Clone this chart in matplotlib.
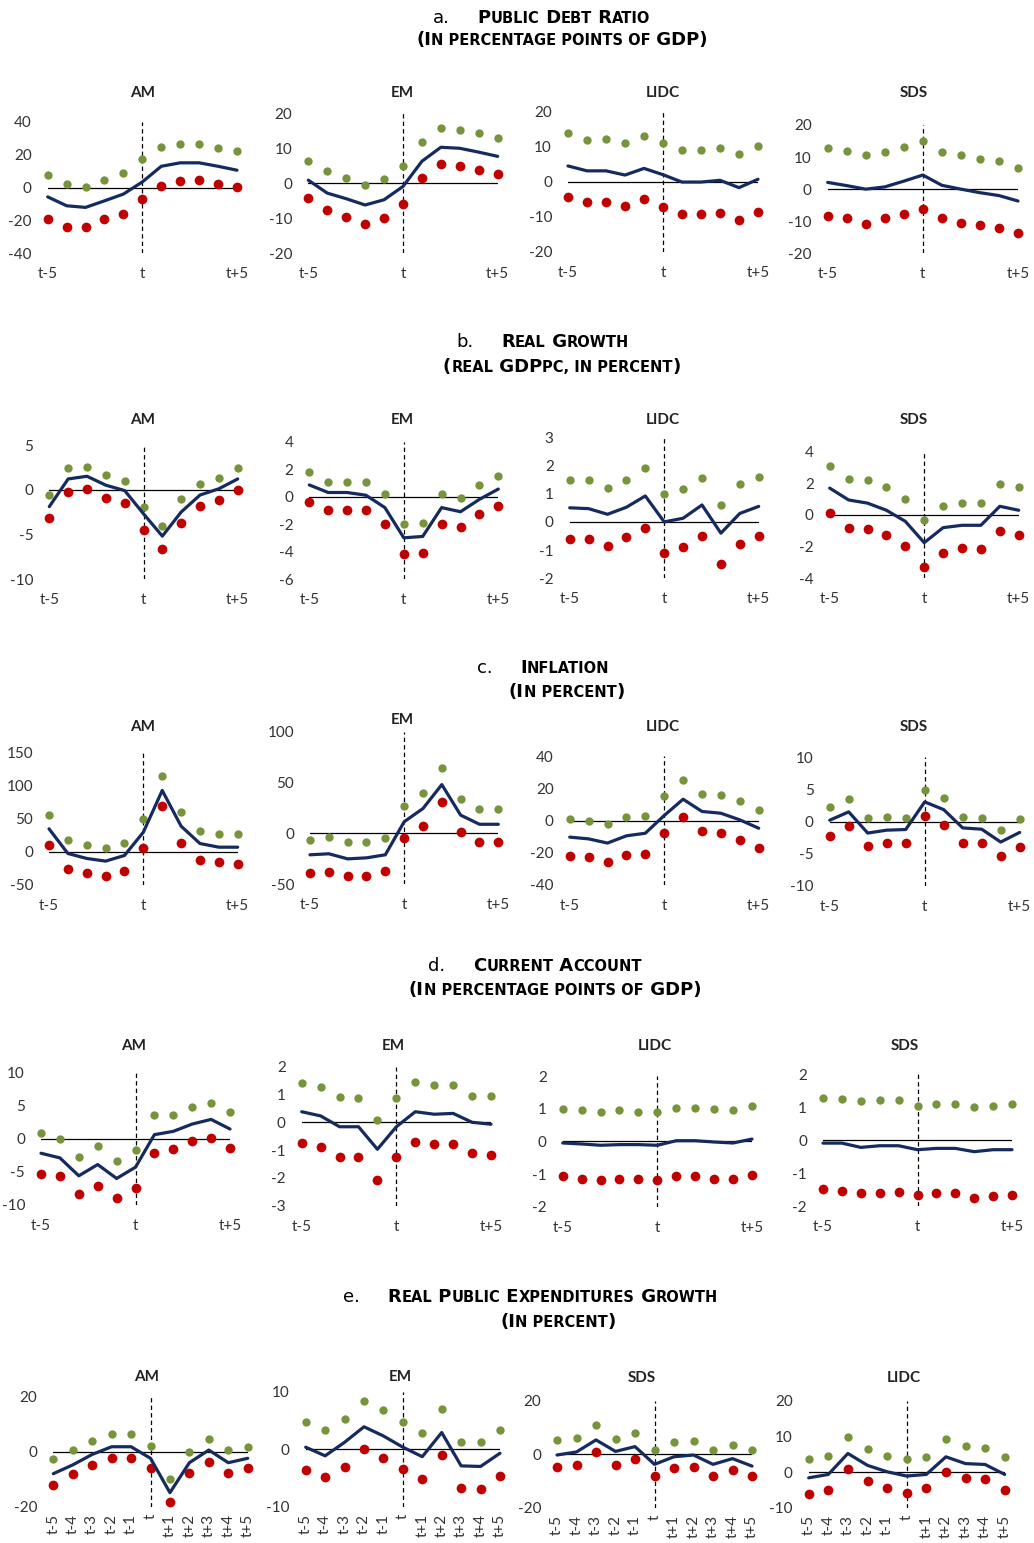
import numpy as np
import matplotlib
matplotlib.use("Agg")
import matplotlib.pyplot as plt
from matplotlib.offsetbox import TextArea, HPacker, DrawingArea, AnchoredOffsetbox

plt.rcParams['font.family'] = ['Lato', 'DejaVu Sans']
plt.rcParams['axes.unicode_minus'] = False

W, H = 1034, 1543
periods = np.arange(-5, 6)
period_labels = ['t-5', 't-4', 't-3', 't-2', 't-1', 't', 't+1', 't+2', 't+3', 't+4', 't+5']

# a. public debt ratio
debt_AM_hi = [7.9, 2.0, 0.4, 4.8, 8.9, 17.6, 24.6, 26.7, 26.7, 24.0, 22.4]
debt_AM_lo = [-19.4, -23.8, -23.8, -19.4, -16.2, -6.7, 1.2, 4.0, 4.8, 2.4, 0.4]
debt_AM_med = [-5.7, -11.1, -12.1, -8.1, -4.0, 3.4, 12.9, 15.0, 15.0, 12.9, 10.5]
debt_EM_hi = [6.5, 3.6, 1.5, -0.4, 1.1, 4.9, 11.9, 15.7, 15.3, 14.3, 13.0]
debt_EM_lo = [-4.2, -7.7, -9.6, -11.6, -10.0, -5.8, 1.5, 5.4, 4.9, 3.8, 2.7]
debt_EM_med = [0.9, -2.8, -4.4, -6.2, -4.7, -0.9, 6.3, 10.3, 10.0, 8.9, 7.7]
debt_LIDC_hi = [13.8, 11.9, 12.2, 11.0, 13.0, 11.0, 9.0, 9.0, 9.7, 7.8, 10.1]
debt_LIDC_lo = [-4.5, -5.9, -5.9, -7.0, -5.0, -7.1, -9.3, -9.3, -8.9, -10.9, -8.6]
debt_LIDC_med = [4.5, 3.1, 3.1, 1.9, 3.8, 2.0, -0.1, -0.1, 0.4, -1.7, 0.7]
debt_SDS_hi = [12.7, 12.0, 10.7, 11.6, 13.2, 14.9, 11.6, 10.7, 9.4, 8.7, 6.6]
debt_SDS_lo = [-8.4, -9.1, -10.9, -9.1, -7.9, -6.2, -9.1, -10.4, -11.3, -12.0, -13.8]
debt_SDS_med = [2.1, 1.1, 0.0, 0.7, 2.5, 4.4, 1.2, 0.0, -1.1, -2.0, -3.7]

# b. real growth
growth_AM_hi = [-0.6, 2.4, 2.5, 1.6, 1.0, -1.9, -4.1, -1.1, 0.6, 1.3, 2.4]
growth_AM_lo = [-3.2, -0.3, 0.1, -0.9, -1.5, -4.5, -6.6, -3.7, -1.8, -1.2, 0.0]
growth_AM_med = [-1.9, 1.2, 1.5, 0.5, -0.1, -2.7, -5.2, -2.5, -0.6, 0.1, 1.2]
growth_EM_hi = [1.8, 1.1, 1.1, 1.1, 0.2, -2.0, -1.9, 0.2, -0.1, 0.85, 1.5]
growth_EM_lo = [-0.4, -1.0, -1.0, -1.0, -2.0, -4.2, -4.1, -2.0, -2.2, -1.3, -0.7]
growth_EM_med = [0.85, 0.3, 0.3, 0.1, -0.8, -3.0, -2.9, -0.8, -1.1, -0.2, 0.55]
growth_LIDC_hi = [1.5, 1.5, 1.2, 1.5, 1.9, 1.0, 1.15, 1.55, 0.6, 1.35, 1.6]
growth_LIDC_lo = [-0.6, -0.6, -0.85, -0.55, -0.2, -1.1, -0.9, -0.5, -1.5, -0.8, -0.5]
growth_LIDC_med = [0.5, 0.47, 0.27, 0.52, 0.92, 0.0, 0.13, 0.6, -0.4, 0.3, 0.55]
growth_SDS_hi = [3.1, 2.3, 2.2, 1.75, 1.0, -0.3, 0.6, 0.75, 0.75, 1.95, 1.8]
growth_SDS_lo = [0.15, -0.8, -0.9, -1.25, -1.95, -3.3, -2.4, -2.1, -2.15, -1.0, -1.25]
growth_SDS_med = [1.7, 0.95, 0.75, 0.3, -0.4, -1.75, -0.8, -0.65, -0.65, 0.55, 0.3]

# c. inflation
infl_AM_hi = [56, 17.5, 10, 6, 13.5, 50, 114, 60, 32, 27.5, 27.5]
infl_AM_lo = [10, -26.5, -32.5, -36.5, -29, 6, 69, 13.5, -12.5, -15.5, -18]
infl_AM_med = [34.7, -2.5, -10, -14, -5.5, 29.6, 92.5, 38.7, 12.5, 7, 7]
infl_EM_hi = [-6, -3.3, -8.2, -8.2, -4, 27, 40, 64, 34, 24.5, 24.5]
infl_EM_lo = [-38.5, -37.5, -41.5, -41.5, -37, -4.2, 7.5, 31, 1, -8.2, -8.2]
infl_EM_med = [-21, -20, -25, -24, -21, 11.5, 24.5, 48, 18, 9, 9]
infl_LIDC_hi = [1, -0.6, -2.3, 1.9, 2.5, 14.9, 25, 16.5, 15.7, 11.8, 6.6]
infl_LIDC_lo = [-22.3, -22.9, -25.6, -21.3, -20.5, -8, 1.9, -6.6, -8, -12.4, -17.1]
infl_LIDC_med = [-10.3, -11.4, -14, -9.5, -7.9, 3.1, 13.2, 5.6, 4.5, 0.4, -4.8]
infl_SDS_hi = [2.2, 3.5, 0.5, 0.7, 0.6, 4.9, 3.7, 0.7, 0.5, -1.35, 0.4]
infl_SDS_lo = [-2.2, -0.7, -3.85, -3.4, -3.4, 0.8, -0.5, -3.4, -3.4, -5.3, -3.95]
infl_SDS_med = [0.2, 1.5, -1.8, -1.35, -1.25, 3.05, 1.85, -1.0, -1.2, -3.2, -1.7]

# d. current account
ca_AM_hi = [0.85, -0.05, -2.8, -1.15, -3.4, -1.75, 3.5, 3.5, 4.7, 5.4, 4.0]
ca_AM_lo = [-5.4, -5.7, -8.3, -7.2, -9.0, -7.4, -2.2, -1.5, -0.3, 0.1, -1.4]
ca_AM_med = [-2.2, -2.9, -5.6, -3.9, -6.0, -4.3, 0.6, 1.1, 2.2, 2.9, 1.45]
ca_EM_hi = [1.43, 1.28, 0.92, 0.86, 0.08, 0.89, 1.44, 1.34, 1.34, 0.95, 0.95]
ca_EM_lo = [-0.76, -0.88, -1.26, -1.26, -2.07, -1.26, -0.7, -0.79, -0.79, -1.12, -1.18]
ca_EM_med = [0.38, 0.23, -0.16, -0.16, -0.97, -0.16, 0.38, 0.29, 0.32, 0.0, -0.07]
ca_LIDC_hi = [0.99, 0.95, 0.91, 0.95, 0.91, 0.91, 1.02, 1.02, 0.99, 0.95, 1.08]
ca_LIDC_lo = [-1.05, -1.14, -1.19, -1.14, -1.14, -1.19, -1.05, -1.05, -1.14, -1.14, -1.02]
ca_LIDC_med = [-0.05, -0.08, -0.12, -0.1, -0.1, -0.12, 0.02, 0.02, -0.02, -0.05, 0.07]
ca_SDS_hi = [1.28, 1.25, 1.18, 1.22, 1.22, 1.05, 1.09, 1.09, 1.0, 1.05, 1.09]
ca_SDS_lo = [-1.49, -1.54, -1.59, -1.59, -1.56, -1.68, -1.62, -1.62, -1.77, -1.7, -1.66]
ca_SDS_med = [-0.09, -0.09, -0.22, -0.17, -0.17, -0.29, -0.25, -0.25, -0.35, -0.29, -0.29]

# e. real public expenditures growth
exp_AM_hi = [-2.8, 0.6, 3.9, 6.3, 6.3, 2.1, -10, -0.1, 4.7, 0.8, 1.8]
exp_AM_lo = [-12.2, -8.2, -4.8, -2.2, -2.2, -6.0, -18.2, -7.9, -3.6, -7.9, -6.0]
exp_AM_med = [-8, -4.8, -1, 1.8, 1.8, -2.4, -14.9, -4, 0.6, -4, -2.4]
exp_EM_hi = [4.8, 3.4, 5.2, 8.3, 6.8, 4.8, 2.9, 7.0, 1.3, 1.2, 3.4]
exp_EM_lo = [-3.6, -4.9, -3.1, 0.0, -1.45, -3.4, -5.2, -1.0, -6.7, -6.9, -4.6]
exp_EM_med = [0.35, -1.15, 1.2, 3.9, 2.3, 0.35, -1.3, 2.9, -2.9, -3.0, -0.7]
exp_SDS_hi = [5.4, 6.3, 11, 5.9, 8.1, 1.5, 4.6, 5.0, 1.5, 3.5, 1.5]
exp_SDS_lo = [-4.6, -4.1, 0.9, -4.1, -1.6, -8.1, -5.25, -4.75, -8.1, -6.0, -8.1]
exp_SDS_med = [-0.25, 0.9, 5.4, 1.1, 2.9, -3.75, -0.9, -0.25, -3.75, -1.6, -4.4]
exp_LIDC_hi = [3.6, 4.6, 9.9, 6.5, 4.6, 3.6, 4.3, 9.2, 7.3, 6.9, 4.3]
exp_LIDC_lo = [-6.2, -4.9, 0.75, -2.4, -4.6, -5.8, -4.6, -0.1, -1.6, -2.0, -5.1]
exp_LIDC_med = [-1.6, -0.65, 5.25, 1.9, 0.1, -1.1, -0.65, 4.3, 2.4, 2.15, -0.65]

GREEN = '#77933C'
RED = '#C00000'
NAVY = '#152A5E'
TICK = '#333333'

fig = plt.figure(figsize=(W / 100, H / 100), dpi=100)

# panel layout in pixels: name, hi, lo, med, x(t-5), x(t+5), y(top), y(bottom), yticks, title x, title y, all labels
panels = [
    ('AM', debt_AM_hi, debt_AM_lo, debt_AM_med, 47.7, 237, 121.7, 253.3, [-40, -20, 0, 20, 40], 143, 93, False),
    ('EM', debt_EM_hi, debt_EM_lo, debt_EM_med, 308.3, 497.7, 113.3, 253.3, [-20, -10, 0, 10, 20], 402, 93, False),
    ('LIDC', debt_LIDC_hi, debt_LIDC_lo, debt_LIDC_med, 568, 758, 111.7, 251.7, [-20, -10, 0, 10, 20], 663, 93, False),
    ('SDS', debt_SDS_hi, debt_SDS_lo, debt_SDS_med, 827.7, 1018, 125, 253.3, [-20, -10, 0, 10, 20], 914, 93, False),

    ('AM', growth_AM_hi, growth_AM_lo, growth_AM_med, 49.3, 237.7, 445, 579, [-10, -5, 0, 5], 143, 420, False),
    ('EM', growth_EM_hi, growth_EM_lo, growth_EM_med, 309.3, 498.3, 441.7, 579, [-6, -4, -2, 0, 2, 4], 402, 420, False),
    ('LIDC', growth_LIDC_hi, growth_LIDC_lo, growth_LIDC_med, 569.7, 758.7, 437.3, 578.3, [-2, -1, 0, 1, 2, 3], 663, 420, False),
    ('SDS', growth_SDS_hi, growth_SDS_lo, growth_SDS_med, 829.7, 1018.7, 451.7, 578.3, [-4, -2, 0, 2, 4], 914, 420, False),

    ('AM', infl_AM_hi, infl_AM_lo, infl_AM_med, 49, 237.7, 752.3, 885, [-50, 0, 50, 100, 150], 143, 727, False),
    ('EM', infl_EM_hi, infl_EM_lo, infl_EM_med, 310, 498.3, 731.7, 884.3, [-50, 0, 50, 100], 402, 720, False),
    ('LIDC', infl_LIDC_hi, infl_LIDC_lo, infl_LIDC_med, 569.7, 758.7, 756, 885, [-40, -20, 0, 20, 40], 663, 727, False),
    ('SDS', infl_SDS_hi, infl_SDS_lo, infl_SDS_med, 829.7, 1019.7, 757.3, 885.7, [-10, -5, 0, 5, 10], 914, 727, False),

    ('AM', ca_AM_hi, ca_AM_lo, ca_AM_med, 41, 230, 1072.3, 1205, [-10, -5, 0, 5, 10], 134, 1046, False),
    ('EM', ca_EM_hi, ca_EM_lo, ca_EM_med, 301.7, 491, 1066.7, 1205.7, [-3, -2, -1, 0, 1, 2], 393, 1046, False),
    ('LIDC', ca_LIDC_hi, ca_LIDC_lo, ca_LIDC_med, 562.7, 752, 1076, 1206.7, [-2, -1, 0, 1, 2], 655, 1046, False),
    ('SDS', ca_SDS_hi, ca_SDS_lo, ca_SDS_med, 823, 1012, 1074.3, 1206, [-2, -1, 0, 1, 2], 905, 1046, False),

    ('AM', exp_AM_hi, exp_AM_lo, exp_AM_med, 53.3, 247.7, 1396.7, 1506.7, [-20, 0, 20], 147, 1377, True),
    ('EM', exp_EM_hi, exp_EM_lo, exp_EM_med, 305.7, 500, 1391.7, 1506.7, [-10, 0, 10], 400, 1377, True),
    ('SDS', exp_SDS_hi, exp_SDS_lo, exp_SDS_med, 557, 752, 1401, 1507.7, [-20, 0, 20], 642, 1378, True),
    ('LIDC', exp_LIDC_hi, exp_LIDC_lo, exp_LIDC_med, 808.7, 1004.7, 1401, 1507.7, [-10, 0, 10, 20], 904, 1378, True),
]

for name, hi, lo, med, x0, x1, ytop, ybot, yticks, tx, ty, all_labels in panels:
    ax = fig.add_axes([x0 / W, 1 - ybot / H, (x1 - x0) / W, (ybot - ytop) / H])
    ax.set_xlim(-5, 5)
    ax.set_ylim(yticks[0], yticks[-1])
    ax.axvline(0, color='black', lw=0.9, ls=(0, (3.5, 2.5)), zorder=1)
    ax.plot([-5, 5], [0, 0], color='black', lw=0.9, zorder=2)
    ax.plot(periods, hi, 'o', color=GREEN, ms=6, mec='none', clip_on=False, zorder=3)
    ax.plot(periods, lo, 'o', color=RED, ms=7, mec='none', clip_on=False, zorder=3)
    ax.plot(periods, med, color=NAVY, lw=2.3, clip_on=False, zorder=4,
            solid_joinstyle='round', solid_capstyle='round')
    for s in ax.spines.values():
        s.set_visible(False)
    ax.set_yticks(yticks)
    ax.set_yticklabels([str(v) for v in yticks])
    if all_labels:
        ax.set_xticks(periods)
        ax.set_xticklabels(period_labels, rotation=90)
        ax.tick_params(axis='x', pad=5)
    else:
        ax.set_xticks([-5, 0, 5])
        ax.set_xticklabels(['t-5', 't', 't+5'])
        ax.tick_params(axis='x', pad=10)
    ax.tick_params(axis='y', pad=11.5)
    ax.tick_params(length=0, labelsize=11, labelcolor=TICK)
    fig.text(tx / W, 1 - ty / H, name, ha='center', va='center',
             fontsize=11, fontweight='bold', color='#222222')


def section_title(letter, line1, line2, x1, y1, x2, y2):
    big, small = 13, 10.5
    props = lambda s: dict(fontsize=s, fontweight='bold', family='DejaVu Sans', color='black')
    kids = [TextArea(letter, textprops=dict(fontsize=big, family='DejaVu Sans', color='black')),
            DrawingArea(20, 1)]
    kids += [TextArea(t, textprops=props(big if b else small)) for t, b in line1]
    box = HPacker(children=kids, align='baseline', pad=0, sep=0)
    fig.add_artist(AnchoredOffsetbox(loc='center left', child=box, pad=0, borderpad=0, frameon=False,
                                     bbox_to_anchor=(x1 / W, 1 - y1 / H), bbox_transform=fig.transFigure))
    kids = [TextArea(t, textprops=props(big if b else small)) for t, b in line2]
    box = HPacker(children=kids, align='baseline', pad=0, sep=0)
    fig.add_artist(AnchoredOffsetbox(loc='center left', child=box, pad=0, borderpad=0, frameon=False,
                                     bbox_to_anchor=(x2 / W, 1 - y2 / H), bbox_transform=fig.transFigure))


pp_gdp = [('(I', True), ('N PERCENTAGE POINTS OF', False), (' GDP)', True)]
in_pct = [('(I', True), ('N PERCENT', False), (')', True)]

section_title('a.', [('P', True), ('UBLIC', False), (' D', True), ('EBT', False), (' R', True), ('ATIO', False)],
              pp_gdp, 433, 18, 416, 40)
section_title('b.', [('R', True), ('EAL', False), (' G', True), ('ROWTH', False)],
              [('(', True), ('REAL', False), (' GDP', True), ('PC, IN PERCENT', False), (')', True)],
              456, 342, 443, 367)
section_title('c.', [('I', True), ('NFLATION', False)], in_pct, 477, 668, 509, 692)
section_title('d.', [('C', True), ('URRENT', False), (' A', True), ('CCOUNT', False)], pp_gdp, 428, 966, 409, 990)
section_title('e.', [('R', True), ('EAL', False), (' P', True), ('UBLIC', False), (' E', True),
                     ('XPENDITURES', False), (' G', True), ('ROWTH', False)], in_pct, 343, 1297, 500, 1322)

fig.savefig('out.png', dpi=100, facecolor='white')
